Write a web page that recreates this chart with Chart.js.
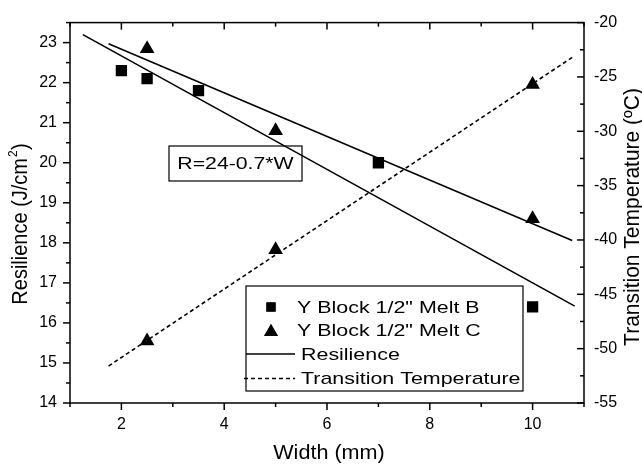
<!DOCTYPE html>
<html>
<head>
<meta charset="utf-8">
<script src="https://cdn.jsdelivr.net/npm/chart.js@4/dist/chart.umd.min.js"></script>
<style>
  html, body { margin: 0; padding: 0; background: #fff; }
  canvas { display: block; }
</style>
</head>
<body>
<canvas id="chart" width="642" height="466"></canvas>
<script>
const FONT = "'Liberation Sans', Arial, Helvetica, sans-serif";

// Measured specimens
const meltBWidth = [2, 2.5, 3.5, 7, 10];
const meltBResilience = [22.3, 22.1, 21.8, 20.0, 16.4];
const meltCWidth = [2.5, 5, 10];
const meltCResilience = [22.85, 20.8, 18.6];
const meltCTransition = [-49.3, -40.9, -25.7];

// Fitted lines (end points)
const fitBWidth = [1.25, 10.82];
const fitBResilience = [23.2, 16.42];
const fitCWidth = [1.75, 10.77];
const fitCResilience = [22.97, 18.06];
const fitTWidth = [1.75, 10.77];
const fitTTransition = [-51.6, -23.2];

// Axis ticks
const xMajorTicks = [2, 4, 6, 8, 10];
const xMinorTicks = [1, 3, 5, 7, 9, 11];
const leftMajorTicks = [14, 15, 16, 17, 18, 19, 20, 21, 22, 23];
const leftMinorTicks = [14.5, 15.5, 16.5, 17.5, 18.5, 19.5, 20.5, 21.5, 22.5, 23.5];
const rightMajorTicks = [-55, -50, -45, -40, -35, -30, -25, -20];
const rightMinorTicks = [-52.5, -47.5, -42.5, -37.5, -32.5, -27.5, -22.5];

const legendLabels = ['Y Block 1/2" Melt B', 'Y Block 1/2" Melt C', 'Resilience', 'Transition Temperature'];
const fitLabel = 'R=24-0.7*W';
const xTitle = 'Width (mm)';
const yTitleMain = 'Resilience (J/cm';
const yTitleSup = '2';
const yTitleEnd = ')';
const y2Title = 'Transition Temperature (\u00BAC)';

const pts = (xs, ys) => xs.map((x, i) => ({ x, y: ys[i] }));

const datasets = [
  { label: legendLabels[0], data: pts(meltBWidth, meltBResilience), yAxisID: 'y',
    pointStyle: 'rect', pointRadius: 8, backgroundColor: '#000', borderColor: '#000', borderWidth: 0, showLine: false },
  { label: legendLabels[1], data: pts(meltCWidth, meltCResilience), yAxisID: 'y',
    pointStyle: 'triangle', pointRadius: 8.5, backgroundColor: '#000', borderColor: '#000', borderWidth: 0, showLine: false },
  { label: legendLabels[1], data: pts(meltCWidth, meltCTransition), yAxisID: 'y2',
    pointStyle: 'triangle', pointRadius: 8.5, backgroundColor: '#000', borderColor: '#000', borderWidth: 0, showLine: false },
  { label: legendLabels[2], data: pts(fitBWidth, fitBResilience), yAxisID: 'y',
    showLine: true, pointRadius: 0, borderColor: '#000', borderWidth: 1.6 },
  { label: legendLabels[2], data: pts(fitCWidth, fitCResilience), yAxisID: 'y',
    showLine: true, pointRadius: 0, borderColor: '#000', borderWidth: 1.6 },
  { label: legendLabels[3], data: pts(fitTWidth, fitTTransition), yAxisID: 'y2',
    showLine: true, pointRadius: 0, borderColor: '#000', borderWidth: 1.6, borderDash: [4, 3] }
];

// Text drawn with a slight horizontal stretch
function stretchedText(ctx, text, x, y, sx, align) {
  ctx.save();
  ctx.translate(x, y);
  ctx.scale(sx, 1);
  ctx.textAlign = align || 'left';
  ctx.fillText(text, 0, 0);
  ctx.restore();
}

const framePlugin = {
  id: 'frame',
  afterDraw(chart) {
    const { ctx, chartArea: a, scales } = chart;
    ctx.save();
    ctx.strokeStyle = '#000';
    ctx.lineWidth = 1.5;
    ctx.strokeRect(a.left, a.top, a.right - a.left, a.bottom - a.top);
    const seg = (x1, y1, x2, y2) => { ctx.beginPath(); ctx.moveTo(x1, y1); ctx.lineTo(x2, y2); ctx.stroke(); };
    const MAJ = 7, MIN = 4;
    xMajorTicks.forEach(v => { const p = scales.x.getPixelForValue(v); seg(p, a.bottom, p, a.bottom + MAJ); seg(p, a.top, p, a.top + MAJ); });
    xMinorTicks.forEach(v => { const p = scales.x.getPixelForValue(v); seg(p, a.bottom, p, a.bottom + MIN); seg(p, a.top, p, a.top + MIN); });
    leftMajorTicks.forEach(v => { const p = scales.y.getPixelForValue(v); seg(a.left - MAJ, p, a.left, p); });
    leftMinorTicks.forEach(v => { const p = scales.y.getPixelForValue(v); seg(a.left - MIN, p, a.left, p); });
    rightMajorTicks.forEach(v => { const p = scales.y2.getPixelForValue(v); seg(a.right - MAJ, p, a.right, p); });
    rightMinorTicks.forEach(v => { const p = scales.y2.getPixelForValue(v); seg(a.right - MIN, p, a.right, p); });
    ctx.restore();
  }
};

const titlesPlugin = {
  id: 'titles',
  afterDraw(chart) {
    const { ctx } = chart;
    ctx.save();
    ctx.fillStyle = '#000';
    ctx.textBaseline = 'alphabetic';
    ctx.font = '20px ' + FONT;
    stretchedText(ctx, xTitle, 329, 459, 1.08, 'center');

    // left title, reading upward, with a superscript
    ctx.save();
    ctx.translate(27, 224);
    ctx.rotate(-Math.PI / 2);
    ctx.scale(1, 1.12);
    ctx.font = '20px ' + FONT;
    ctx.textAlign = 'left';
    const wMain = ctx.measureText(yTitleMain).width;
    const wEnd = ctx.measureText(yTitleEnd).width;
    const total = wMain + 8 + wEnd;
    const start = -total / 2;
    ctx.fillText(yTitleMain, start, 0);
    ctx.font = '12px ' + FONT;
    ctx.fillText(yTitleSup, start + wMain + 1, -9);
    ctx.font = '20px ' + FONT;
    ctx.fillText(yTitleEnd, start + wMain + 8, 0);
    ctx.restore();

    // right title, reading upward
    ctx.save();
    ctx.translate(639, 217);
    ctx.rotate(-Math.PI / 2);
    ctx.scale(1, 1.05);
    ctx.textAlign = 'center';
    ctx.font = '21px ' + FONT;
    ctx.fillText(y2Title, 0, 0);
    ctx.restore();
    ctx.restore();
  }
};

const boxesPlugin = {
  id: 'boxes',
  afterDraw(chart) {
    const { ctx } = chart;
    const ds = chart.data.datasets;
    ctx.save();
    ctx.lineWidth = 1.2;
    ctx.strokeStyle = '#000';
    ctx.fillStyle = '#000';

    // equation box
    ctx.strokeRect(169, 146, 133, 35);
    ctx.font = '17px ' + FONT;
    ctx.textBaseline = 'middle';
    stretchedText(ctx, fitLabel, 235.5, 164, 1.25, 'center');

    // legend
    ctx.fillStyle = '#fff';
    ctx.fillRect(246, 286, 277, 105);
    ctx.strokeRect(246, 286, 277, 105);
    ctx.fillStyle = '#000';
    const rows = [307, 330, 354, 378.5];
    const sym = 271;
    Chart.helpers.drawPoint(ctx, { pointStyle: ds[0].pointStyle, radius: 6.5, borderWidth: 0 }, sym, rows[0]);
    ctx.fill();
    Chart.helpers.drawPoint(ctx, { pointStyle: ds[1].pointStyle, radius: 8, borderWidth: 0 }, sym, rows[1] + 2);
    ctx.fill();
    ctx.lineWidth = ds[3].borderWidth;
    ctx.beginPath(); ctx.moveTo(246, rows[2]); ctx.lineTo(295, rows[2]); ctx.stroke();
    ctx.setLineDash(ds[5].borderDash);
    ctx.beginPath(); ctx.moveTo(244, rows[3]); ctx.lineTo(295, rows[3]); ctx.stroke();
    ctx.setLineDash([]);
    ctx.font = '17px ' + FONT;
    ctx.textBaseline = 'middle';
    legendLabels.forEach((t, i) => stretchedText(ctx, t, i < 2 ? 297 : 301, rows[i] + 1, 1.26, 'left'));
    ctx.restore();
  }
};

new Chart(document.getElementById('chart'), {
  type: 'scatter',
  data: { datasets },
  options: {
    responsive: false,
    devicePixelRatio: 1,
    animation: false,
    layout: { padding: { top: 15, left: 0, right: 0, bottom: 0 } },
    plugins: { legend: { display: false }, tooltip: { enabled: false } },
    scales: {
      x: {
        type: 'linear', position: 'bottom', min: 1, max: 11,
        grid: { display: false, drawTicks: false }, border: { display: false },
        afterBuildTicks: s => { s.ticks = xMajorTicks.map(v => ({ value: v })); },
        afterFit: s => { s.height = 63; },
        ticks: { padding: 12, color: '#000', font: { family: FONT, size: 16 } }
      },
      y: {
        type: 'linear', position: 'left', min: 14, max: 23.5,
        grid: { display: false, drawTicks: false }, border: { display: false },
        afterBuildTicks: s => { s.ticks = leftMajorTicks.map(v => ({ value: v })); },
        afterFit: s => { s.width = 70; },
        ticks: { padding: 13, color: '#000', font: { family: FONT, size: 16 } }
      },
      y2: {
        type: 'linear', position: 'right', min: -55, max: -20,
        grid: { display: false, drawTicks: false }, border: { display: false },
        afterBuildTicks: s => { s.ticks = rightMajorTicks.map(v => ({ value: v })); },
        afterFit: s => { s.width = 58; },
        ticks: { padding: 10, color: '#000', font: { family: FONT, size: 16 } }
      }
    }
  },
  plugins: [framePlugin, titlesPlugin, boxesPlugin]
});
</script>
</body>
</html>
